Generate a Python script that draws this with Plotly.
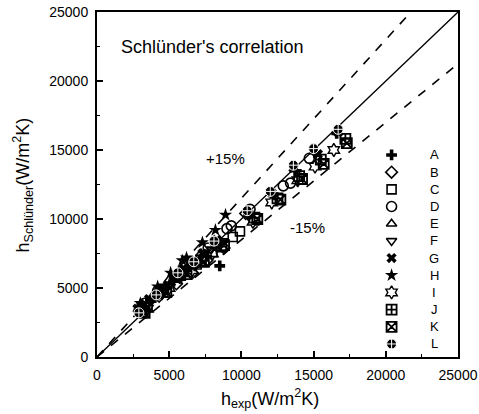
import plotly.graph_objects as go

# ---- data -------------------------------------------------------------
letters = ["A", "B", "C", "D", "E", "F", "G", "H", "I", "J", "K", "L"]

A_x = [2900, 3100, 3700, 4000, 4500, 5300, 5800, 6200, 6800, 7600, 8500, 10500, 12200, 13800, 15100, 16600]
A_y = [3400, 3800, 4100, 4300, 4700, 5500, 5700, 6300, 6600, 7300, 6600, 10300, 11800, 13500, 14800, 16200]
B_x = [3200, 4300, 5500, 6600, 7600, 8800, 10300]
B_y = [3600, 4400, 5300, 6100, 7000, 7900, 10400]
C_x = [3500, 4600, 5800, 6900, 8000, 9400, 9900]
C_y = [3600, 4700, 5900, 6700, 7600, 8700, 9100]
D_x = [3300, 4200, 5400, 6500, 7700, 9000, 9300, 10600, 12900, 13400, 14700]
D_y = [3900, 4800, 5800, 6900, 7900, 9300, 9500, 10700, 12400, 12600, 14400]
E_x = [3000, 4000, 5000, 6100, 7200, 8200]
E_y = [3500, 4600, 5600, 6700, 7500, 8300]
F_x = [3400, 4500, 5700, 6800, 7900, 8700]
F_y = [3300, 4500, 5700, 7000, 7800, 8400]
G_x = [2800, 3600, 4300, 4900, 5300, 6000, 6400, 7300, 8300, 10500, 12100, 13600, 15300, 16700]
G_y = [3500, 4200, 4900, 5200, 5900, 6400, 6800, 7500, 8500, 10400, 11900, 13700, 14700, 16300]
H_x = [3000, 4200, 5100, 5900, 6200, 7300, 8200, 8900]
H_y = [3900, 5100, 6100, 7000, 7200, 8300, 9200, 10300]
I_x = [3500, 5000, 6600, 8000, 10800, 12100, 13900, 15100, 16400]
I_y = [3500, 5000, 6300, 7500, 9800, 11200, 12800, 13800, 15000]
J_x = [3100, 4600, 6000, 7200, 8600, 10900, 12500, 14000, 15500, 17200]
J_y = [3300, 4900, 6200, 7000, 8000, 10100, 11500, 13100, 14300, 15800]
K_x = [3300, 4800, 6200, 7400, 8800, 11100, 12700, 14200, 15700, 17300]
K_y = [3200, 4700, 6000, 6900, 8100, 10000, 11400, 12900, 14000, 15500]
L_x = [2900, 4100, 5600, 6700, 8100, 10400, 12000, 13600, 15000, 16700]
L_y = [3200, 4500, 6100, 6900, 8400, 10600, 12000, 13900, 15100, 16500]

line_x = [0, 25000]
ratios = [1.0, 1.15, 0.85]

tick_vals = [0, 5000, 10000, 15000, 20000, 25000]
tick_text = ["0", "5000", "10000", "15000", "20000", "25000"]

FONT = "Liberation Sans, Arial, sans-serif"

# ---- styles -----------------------------------------------------------
styles = {
    "A": dict(symbol="cross", size=9, color="black", line=dict(width=0)),
    "B": dict(symbol="diamond-open", size=9, color="black", line=dict(width=1.6)),
    "C": dict(symbol="square-open", size=9, color="black", line=dict(width=1.6)),
    "D": dict(symbol="circle-open", size=10, color="black", line=dict(width=1.6)),
    "E": dict(symbol="triangle-up-open", size=9, color="black", line=dict(width=1.6)),
    "F": dict(symbol="triangle-down-open", size=9, color="black", line=dict(width=1.6)),
    "G": dict(symbol="x", size=9, color="black", line=dict(width=0)),
    "H": dict(symbol="star", size=10, color="black", line=dict(width=0)),
    "I": dict(symbol="hexagram-open", size=10, color="black", line=dict(width=1.4)),
    "J": dict(symbol="square-cross-open", size=10, color="black", line=dict(width=1.8)),
    "K": dict(symbol="square-x-open", size=10, color="black", line=dict(width=1.8)),
    "L": dict(symbol="circle-cross", size=10, color="black", line=dict(width=1, color="white")),
}

series = {
    "A": (A_x, A_y), "B": (B_x, B_y), "C": (C_x, C_y), "D": (D_x, D_y),
    "E": (E_x, E_y), "F": (F_x, F_y), "G": (G_x, G_y), "H": (H_x, H_y),
    "I": (I_x, I_y), "J": (J_x, J_y), "K": (K_x, K_y), "L": (L_x, L_y),
}

fig = go.Figure()

# reference lines
for r, dash, w in zip(ratios, ["solid", "dash", "dash"], [1.3, 1.6, 1.6]):
    fig.add_trace(go.Scatter(
        x=line_x, y=[v * r for v in line_x], mode="lines",
        line=dict(color="black", width=w, dash=dash),
        showlegend=False, hoverinfo="skip"))

for k in letters:
    xs, ys = series[k]
    fig.add_trace(go.Scatter(x=xs, y=ys, mode="markers", marker=styles[k],
                             showlegend=False, name=k))

# manual legend (symbol column + letter column)
leg_sym_x = 20400
leg_txt_x = 23350
leg_top = 14640
leg_step = 1245
for i, k in enumerate(letters):
    yy = leg_top - i * leg_step
    fig.add_trace(go.Scatter(x=[leg_sym_x], y=[yy], mode="markers",
                             marker=styles[k], showlegend=False, hoverinfo="skip"))
    fig.add_annotation(x=leg_txt_x, y=yy, text=k, showarrow=False,
                       font=dict(family=FONT, size=13, color="black"),
                       xanchor="center", yanchor="middle")

fig.add_annotation(x=1500, y=22450, text="Schlünder's correlation", showarrow=False,
                   xanchor="left", yanchor="middle",
                   font=dict(family=FONT, size=18, color="black"))
fig.add_annotation(x=8900, y=14420, text="+15%", showarrow=False,
                   font=dict(family=FONT, size=15, color="black"))
fig.add_annotation(x=14600, y=9350, text="-15%", showarrow=False,
                   font=dict(family=FONT, size=15, color="black"))

# axis titles as annotations for precise placement
fig.add_annotation(xref="paper", yref="paper", x=0.479, y=-0.119,
                   text="h<sub>exp</sub>(W/m<sup>2</sup>K)", showarrow=False,
                   xanchor="center", yanchor="middle",
                   font=dict(family=FONT, size=18, color="black"))
fig.add_annotation(xref="paper", yref="paper", x=-0.205, y=0.5, textangle=-90,
                   text="h<sub>Schlünder</sub>(W/m<sup>2</sup>K)", showarrow=False,
                   xanchor="center", yanchor="middle",
                   font=dict(family=FONT, size=18, color="black"))

axis_common = dict(
    range=[0, 25000], tickmode="array", tickvals=tick_vals, ticktext=tick_text,
    ticks="inside", ticklen=6, tickwidth=1.5, tickcolor="black",
    minor=dict(ticks="inside", ticklen=3, dtick=2500, tickcolor="black", tickwidth=1),
    showline=True, linecolor="black", linewidth=2, mirror=True,
    showgrid=False, zeroline=False, automargin=False,
    ticklabeloverflow="allow", ticklabelstandoff=4,
    tickfont=dict(family=FONT, size=14, color="black"),
)

fig.update_layout(
    width=479, height=414,
    margin=dict(l=97, r=21, t=12, b=57, autoexpand=False),
    paper_bgcolor="white", plot_bgcolor="white",
    xaxis=axis_common,
    yaxis=axis_common,
)

# remove the page's default body margin so the figure sits at the window's corner
fig.write_html("out.html",
               config={"displayModeBar": False},
               post_script="document.body.style.margin='0';document.body.style.overflow='hidden';")
